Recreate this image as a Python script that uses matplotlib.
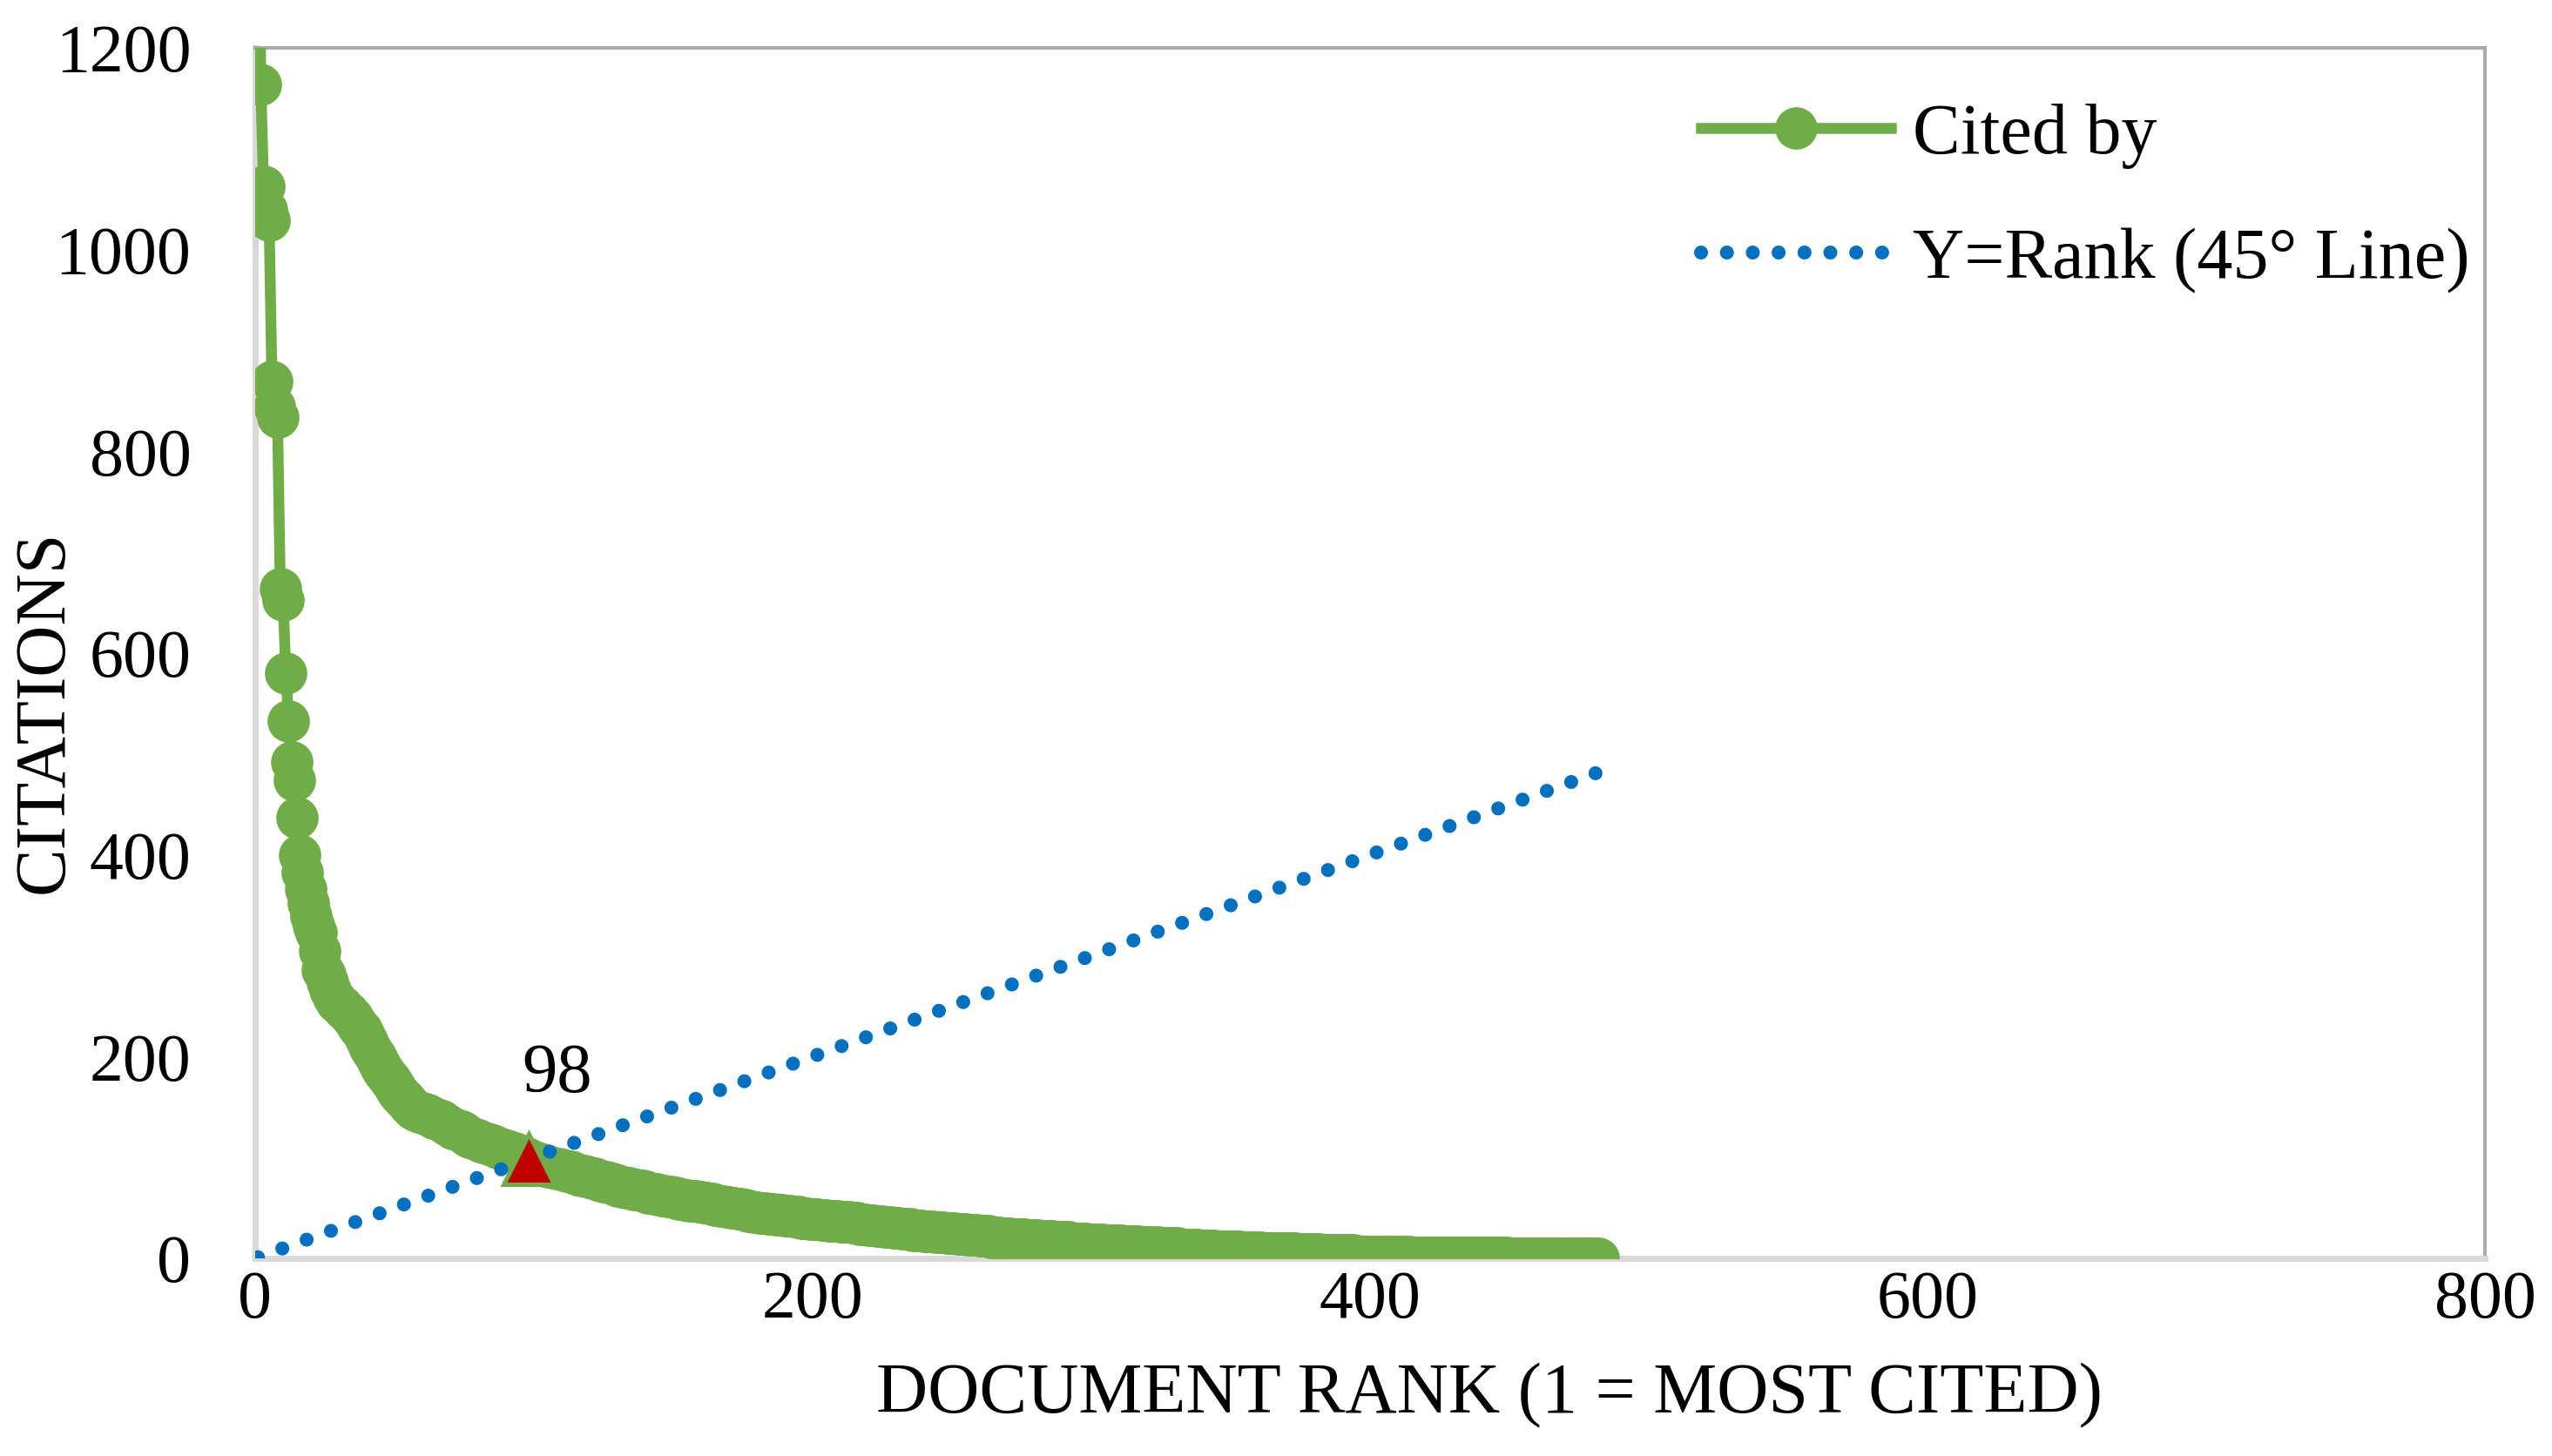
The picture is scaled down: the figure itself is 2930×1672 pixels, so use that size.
#!/usr/bin/env python3
"""
Citation rank chart: citations per document (sorted) against a Y=Rank line,
with the h-index crossing marked.
"""

import numpy as np
import matplotlib
matplotlib.use("Agg")
import matplotlib.pyplot as plt

# Citations per document, sorted (rank 1 = most cited)
CITED_TOP = [
    1480, 1164, 1063, 1039, 1029, 869, 844, 834, 664, 653,
    580, 533, 492, 474, 437, 400, 382, 366, 352, 339,
    330, 323, 305, 286, 281, 274, 266, 259, 255, 252,
    250, 247, 244, 241, 238, 234, 230, 226, 221, 216,
    210, 205, 200, 195, 190, 186, 182, 178, 174, 170,
    166, 162, 159, 156, 153, 150, 148, 146, 145, 144,
    143, 142, 141, 139, 138, 137, 136, 134, 132, 130,
    129, 128, 127, 126, 124, 122, 120, 119, 118, 117,
    116, 115, 114, 113, 112, 111, 110, 109, 108, 107,
    106, 105, 104, 103, 102, 101, 100, 98, 97, 96,
]
CITED_MID = [
    95, 94, 93, 92, 91, 91, 90, 89, 89, 88,
    87, 86, 86, 85, 84, 83, 82, 82, 81, 80,
    79, 79, 78, 77, 76, 76, 75, 74, 73, 72,
    72, 71, 70, 70, 69, 68, 68, 67, 67, 66,
    65, 65, 64, 64, 63, 62, 62, 61, 61, 60,
    60, 59, 59, 58, 58, 57, 57, 57, 56, 56,
    55, 55, 54, 54, 53, 53, 52, 52, 51, 51,
    50, 50, 49, 49, 48, 48, 47, 47, 46, 46,
    45, 45, 45, 44, 44, 44, 43, 43, 43, 42,
    42, 42, 41, 41, 41, 40, 40, 40, 39, 39,
    39, 39, 38, 38, 38, 37, 37, 37, 37, 36,
    36, 36, 36, 35, 35, 35, 34, 34, 34, 33,
    33, 33, 32, 32, 32, 31, 31, 31, 30, 30,
    30, 29, 29, 29, 29, 28, 28, 28, 28, 27,
    27, 27, 27, 26, 26, 26, 26, 25, 25, 25,
]
CITED_TAIL = [
    25, 24, 24, 24, 24, 23, 23, 23, 23, 22,
    22, 22, 22, 21, 21, 21, 21, 20, 20, 20,
    20, 19, 19, 19, 19, 19, 18, 18, 18, 18,
    18, 17, 17, 17, 17, 17, 16, 16, 16, 16,
    16, 16, 15, 15, 15, 15, 15, 15, 14, 14,
    14, 14, 14, 14, 13, 13, 13, 13, 13, 13,
    13, 12, 12, 12, 12, 12, 12, 11, 11, 11,
    11, 11, 11, 11, 10, 10, 10, 10, 10, 10,
    10, 9, 9, 9, 9, 9, 9, 9, 8, 8,
    8, 8, 8, 8, 7, 7, 7, 7, 7, 7,
    7, 7, 7, 6, 6, 6, 6, 6, 6, 6,
    6, 5, 5, 5, 5, 5, 5, 5, 5, 5,
    5, 5, 5, 4, 4, 4, 4, 4, 4, 4,
    4, 4, 3, 3, 3, 3, 3, 3, 3, 3,
    3, 3, 3, 3, 2, 2, 2, 2, 2, 2,
    2, 2, 2, 2, 2, 2, 2, 2, 2, 2,
    2, 2, 2, 2, 1, 1, 1, 1, 1, 1,
    1, 1, 1, 1, 1, 1, 1, 1, 1, 1,
    1, 1, 1, 1, 1, 1, 1, 1, 1, 1,
    1, 1, 1, 1, 1, 1, 1, 1, 1, 0,
    0, 0, 0, 0, 0, 0, 0, 0, 0, 0,
    0, 0, 0, 0, 0, 0, 0, 0, 0, 0,
    0, 0, 0, 0, 0, 0, 0, 0, 0, 0,
    0, 0,
]

H_INDEX = 98

X_TICKS = [0, 200, 400, 600, 800]
Y_TICKS = [0, 200, 400, 600, 800, 1000, 1200]

GREEN = '#70AD47'
BLUE = '#0070C0'
RED = '#C00000'


def main():
    plt.rcParams['font.family'] = ['Liberation Serif', 'DejaVu Serif']

    citations = np.array(CITED_TOP + CITED_MID + CITED_TAIL)
    ranks = np.arange(1, len(citations) + 1)

    fig = plt.figure(figsize=(14.65, 8.36), dpi=200)
    ax = fig.add_axes([0.1, 0.1358, 0.8737, 0.8313])

    # Cited by curve
    ax.plot(ranks, citations, color=GREEN, linewidth=4.5, marker='o',
            markersize=17.5, markeredgewidth=0, label='Cited by', zorder=3)

    # 45 degree reference line (dot spacing chosen so a dot lands on the end)
    ax.plot(ranks, ranks, color=BLUE, linewidth=5.8, linestyle=(0, (0.001, 1.842)),
            dash_capstyle='round', label='Y=Rank (45° Line)', zorder=4)

    # h-index marker
    ax.plot([H_INDEX], [citations[H_INDEX - 1]], marker='^', markersize=21,
            markerfacecolor=RED, markeredgecolor=GREEN, markeredgewidth=1.8,
            linestyle='none', zorder=5)
    ax.annotate(str(H_INDEX), xy=(H_INDEX, citations[H_INDEX - 1]),
                xytext=(12, 35), textcoords='offset points',
                ha='center', va='center', fontsize=29, zorder=6)

    ax.set_xlim(X_TICKS[0], X_TICKS[-1])
    ax.set_ylim(Y_TICKS[0], Y_TICKS[-1])
    ax.set_xticks(X_TICKS)
    ax.set_yticks(Y_TICKS)
    ax.tick_params(axis='both', length=0, labelsize=28)
    ax.tick_params(axis='y', pad=26.5)
    ax.tick_params(axis='x', pad=5)

    # Excel-like borders: light axis lines, darker plot-area frame
    for side in ('left', 'bottom'):
        ax.spines[side].set_color('#D9D9D9')
        ax.spines[side].set_linewidth(2.5)
        ax.spines[side].set_zorder(1)
    for side in ('top', 'right'):
        ax.spines[side].set_color('#ABABAB')
        ax.spines[side].set_linewidth(1.5)
        ax.spines[side].set_zorder(1)

    ax.set_xlabel('DOCUMENT RANK (1 = MOST CITED)', fontsize=29.5)
    ax.xaxis.label.set_va('center')
    ax.xaxis.set_label_coords(0.5535, -0.1137)
    ax.set_ylabel('CITATIONS', fontsize=29.5)
    ax.yaxis.label.set_va('center')
    ax.yaxis.set_label_coords(-0.0941, 0.4518)

    ax.legend(loc='upper left', bbox_to_anchor=(1953 / 2930, 1 - 118 / 1672),
              bbox_transform=fig.transFigure, frameon=False, fontsize=29.5,
              handlelength=2.66, handletextpad=0.3, labelspacing=0.83,
              borderpad=0, borderaxespad=0)

    fig.savefig('out.png', dpi=200)
    plt.close(fig)


if __name__ == "__main__":
    main()
